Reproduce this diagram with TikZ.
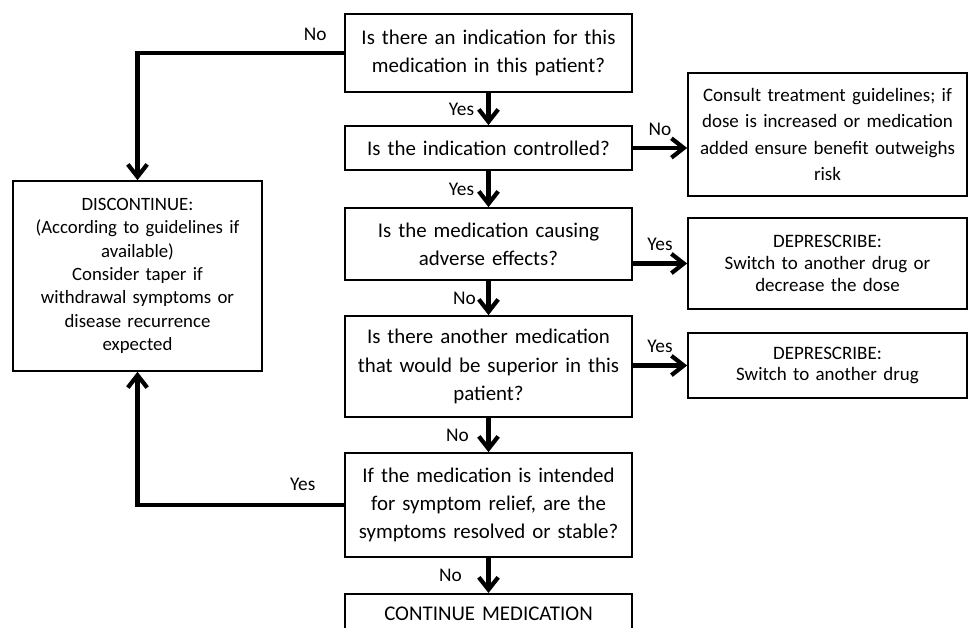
\documentclass[tikz,border=0pt]{standalone}
\usepackage{fontspec}
\setmainfont{Carlito}
\usetikzlibrary{arrows.meta}
\tikzset{
	qbox/.style={draw, line width=1pt, minimum width=5.74cm, text width=5.6cm, inner xsep=2pt, align=center, font=\fontsize{11.9}{16}\selectfont},
	actbox/.style={draw, line width=1pt, minimum width=5.58cm, text width=5.3cm, align=center, font=\fontsize{10.8}{13}\selectfont},
	flowline/.style={line width=2.4pt, -{Straight Barb[length=7pt,width=11pt]}},
	ans/.style={font=\fontsize{11}{13}\selectfont, inner sep=2pt}
}

\begin{document}
\begin{tikzpicture}[x=0.02cm, y=-0.02cm]
			%%%%% START %%%%%
			
			\useasboundingbox[fill=white] (0, 0) rectangle (970, 628);
			
			\node[qbox, minimum height=1.56cm] (q1) at (488.5, 53) {Is there an indication for this\\ medication in this patient?};
			\node[qbox, minimum height=0.88cm] (q2) at (488.5, 148) {Is the indication controlled?};
			\node[qbox, minimum height=1.44cm] (q3) at (488.5, 244) {Is the medication causing\\ adverse effects?};
			\node[qbox, minimum height=2.02cm] (q4) at (488.5, 366.5) {Is there another medication\\ that would be superior in this\\ patient?};
			\node[qbox, minimum height=2.08cm] (q5) at (488.5, 505) {If the medication is intended\\ for symptom relief, are the\\ symptoms resolved or stable?};
			\node[qbox, minimum height=0.8cm, anchor=north] (cont) at (488.5, 593) {CONTINUE MEDICATION};
			
			\node[actbox, minimum height=2.46cm, font=\fontsize{10.8}{15.1}\selectfont] (consult) at (827.5, 134.5) {Consult treatment guidelines; if\\ dose is increased or medication\\ added ensure benefit outweighs\\ risk};
			\node[actbox, minimum height=1.82cm, font=\fontsize{10.8}{12.3}\selectfont] (depr1) at (827.5, 263.5) {DEPRESCRIBE:\\ Switch to another drug or\\ decrease the dose};
			\node[actbox, minimum height=1.3cm, font=\fontsize{10.8}{12.3}\selectfont] (depr2) at (827.5, 365.5) {DEPRESCRIBE:\\ Switch to another drug};
			
			\node[actbox, minimum width=4.98cm, text width=4.6cm, minimum height=3.8cm, font=\fontsize{10.7}{13.3}\selectfont] (disc) at (137.5, 276) {DISCONTINUE:\\ (According to guidelines if\\ available)\\ Consider taper if\\ withdrawal symptoms or\\ disease recurrence\\ expected};
			
			\draw[flowline] (q1) -- node[ans, left=5pt] (y1) {Yes} (q2);
			\draw[flowline] (q2) -- node[ans, left=5pt] (y2) {Yes} (q3);
			\draw[flowline] (q3) -- node[ans, left=4pt] (n3) {No} (q4);
			\draw[flowline] (q4) -- node[ans, left=8pt] (n4) {No} (q5);
			\draw[flowline] (q5) -- node[ans, left=12pt] (n5) {No} (cont);
			
			\draw[flowline] (q2) -- node[ans, above=4pt] (n2) {No} (consult.west |- q2);
			\draw[flowline] (q3.east |- depr1) -- node[ans, above=4pt] (y3) {Yes} (depr1);
			\draw[flowline] (q4.east |- depr2) -- node[ans, above=4pt] (y4) {Yes} (depr2);
			
			\draw[flowline] (q1.west) -| node[ans, above=4pt, pos=0.07] (n1) {No} (disc.north);
			\draw[flowline] (q5.west) -| node[ans, above=5pt, pos=0.1] (y5) {Yes} (disc.south);
			
			%%%%% END %%%%%
\end{tikzpicture}
\end{document}
